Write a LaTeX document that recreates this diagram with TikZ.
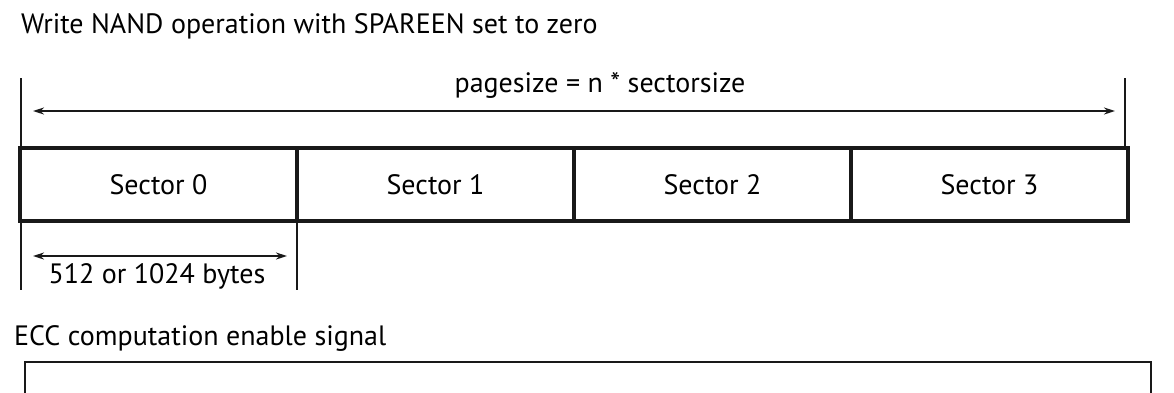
\documentclass[tikz,border=0pt]{standalone}
\usepackage{fontspec}
\setmainfont{PT Sans}
\usetikzlibrary{arrows.meta}
\begin{document}
\begin{tikzpicture}[x=1pt,y=-1pt,
  lbl/.style={inner sep=0pt,font=\fontsize{28}{32}\selectfont},
  sector/.style={draw=black!90,line width=4pt,minimum width=277pt,minimum height=73pt,inner sep=0pt,font=\fontsize{28}{32}\selectfont},
  guide/.style={line width=1.8pt,draw=black!90},
  dim/.style={line width=1.8pt,draw=black!90,{Stealth[length=11pt,width=7pt]}-{Stealth[length=11pt,width=7pt]}}]
\useasboundingbox (0,0) rectangle (1174,392);
\node[lbl,anchor=base west] (title) at (21,33) {Write NAND operation with SPAREEN set to zero};
\node[sector] (s0) at (158.5,184.5) {Sector 0};
\node[sector] (s1) at (435.5,184.5) {Sector 1};
\node[sector] (s2) at (712.5,184.5) {Sector 2};
\node[sector] (s3) at (989.5,184.5) {Sector 3};
\coordinate (lt) at (21,78);
\coordinate (rt) at (1125,78);
\coordinate (lb) at (21,290);
\coordinate (mb) at (297,290);
\draw[guide] (lt) -- (s0.north west -| lt);
\draw[guide] (rt) -- (s3.north east -| rt);
\draw[guide] (s0.south west -| lb) -- (lb);
\draw[guide] (s0.south east -| mb) -- (mb);
\coordinate (a1) at (33,111);
\coordinate (a2) at (1115,111);
\draw[dim] (a1) -- (a2);
\node[lbl,anchor=base] (ps) at (600,92) {pagesize = n * sectorsize};
\coordinate (b1) at (33,256);
\coordinate (b2) at (287,256);
\draw[dim] (b1) -- (b2);
\node[lbl,anchor=base] (bytes) at (157,283) {512 or 1024 bytes};
\node[lbl,anchor=base west] (ecc) at (14,345) {ECC computation enable signal};
\coordinate (e1) at (25,400);
\coordinate (e2) at (25,362);
\coordinate (e3) at (1151,362);
\coordinate (e4) at (1151,400);
\draw[line width=2.5pt,draw=black!90] (e1) -- (e2) -- (e3) -- (e4);
\end{tikzpicture}
\end{document}
